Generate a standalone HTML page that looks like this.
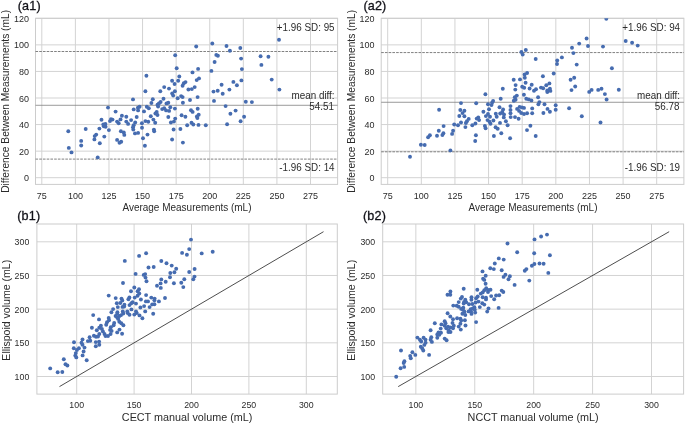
<!DOCTYPE html><html><head><meta charset="utf-8"><title>Bland-Altman and scatter plots</title>
<style>html,body{margin:0;padding:0;background:#fff}svg{display:block}text{font-family:"Liberation Sans", sans-serif}circle{fill:#466cb0}</style></head><body>
<svg width="685" height="424" viewBox="0 0 685 424">
<rect width="685" height="424" fill="#fff"/>
<g id="a1">
<rect x="35.5" y="18.3" width="302.1" height="166.1" fill="#fff"/>
<line x1="41.80" y1="18.3" x2="41.80" y2="184.4" stroke="#d3d3d3" stroke-width="1"/>
<text transform="translate(41.80,198.50) scale(0.955,1)" font-size="9.42" text-anchor="middle" fill="#2b2b2b">75</text>
<line x1="75.39" y1="18.3" x2="75.39" y2="184.4" stroke="#d3d3d3" stroke-width="1"/>
<text transform="translate(75.39,198.50) scale(0.955,1)" font-size="9.42" text-anchor="middle" fill="#2b2b2b">100</text>
<line x1="108.97" y1="18.3" x2="108.97" y2="184.4" stroke="#d3d3d3" stroke-width="1"/>
<text transform="translate(108.97,198.50) scale(0.955,1)" font-size="9.42" text-anchor="middle" fill="#2b2b2b">125</text>
<line x1="142.56" y1="18.3" x2="142.56" y2="184.4" stroke="#d3d3d3" stroke-width="1"/>
<text transform="translate(142.56,198.50) scale(0.955,1)" font-size="9.42" text-anchor="middle" fill="#2b2b2b">150</text>
<line x1="176.15" y1="18.3" x2="176.15" y2="184.4" stroke="#d3d3d3" stroke-width="1"/>
<text transform="translate(176.15,198.50) scale(0.955,1)" font-size="9.42" text-anchor="middle" fill="#2b2b2b">175</text>
<line x1="209.74" y1="18.3" x2="209.74" y2="184.4" stroke="#d3d3d3" stroke-width="1"/>
<text transform="translate(209.74,198.50) scale(0.955,1)" font-size="9.42" text-anchor="middle" fill="#2b2b2b">200</text>
<line x1="243.32" y1="18.3" x2="243.32" y2="184.4" stroke="#d3d3d3" stroke-width="1"/>
<text transform="translate(243.32,198.50) scale(0.955,1)" font-size="9.42" text-anchor="middle" fill="#2b2b2b">225</text>
<line x1="276.91" y1="18.3" x2="276.91" y2="184.4" stroke="#d3d3d3" stroke-width="1"/>
<text transform="translate(276.91,198.50) scale(0.955,1)" font-size="9.42" text-anchor="middle" fill="#2b2b2b">250</text>
<line x1="310.50" y1="18.3" x2="310.50" y2="184.4" stroke="#d3d3d3" stroke-width="1"/>
<text transform="translate(310.50,198.50) scale(0.955,1)" font-size="9.42" text-anchor="middle" fill="#2b2b2b">275</text>
<line x1="35.5" y1="177.70" x2="337.6" y2="177.70" stroke="#d3d3d3" stroke-width="1"/>
<text transform="translate(28.90,181.30) scale(0.955,1)" font-size="9.42" text-anchor="end" fill="#2b2b2b">0</text>
<line x1="35.5" y1="151.13" x2="337.6" y2="151.13" stroke="#d3d3d3" stroke-width="1"/>
<text transform="translate(28.90,154.73) scale(0.955,1)" font-size="9.42" text-anchor="end" fill="#2b2b2b">20</text>
<line x1="35.5" y1="124.57" x2="337.6" y2="124.57" stroke="#d3d3d3" stroke-width="1"/>
<text transform="translate(28.90,128.17) scale(0.955,1)" font-size="9.42" text-anchor="end" fill="#2b2b2b">40</text>
<line x1="35.5" y1="98.00" x2="337.6" y2="98.00" stroke="#d3d3d3" stroke-width="1"/>
<text transform="translate(28.90,101.60) scale(0.955,1)" font-size="9.42" text-anchor="end" fill="#2b2b2b">60</text>
<line x1="35.5" y1="71.43" x2="337.6" y2="71.43" stroke="#d3d3d3" stroke-width="1"/>
<text transform="translate(28.90,75.03) scale(0.955,1)" font-size="9.42" text-anchor="end" fill="#2b2b2b">80</text>
<line x1="35.5" y1="44.87" x2="337.6" y2="44.87" stroke="#d3d3d3" stroke-width="1"/>
<text transform="translate(28.90,48.47) scale(0.955,1)" font-size="9.42" text-anchor="end" fill="#2b2b2b">100</text>
<line x1="35.5" y1="18.30" x2="337.6" y2="18.30" stroke="#d3d3d3" stroke-width="1"/>
<text transform="translate(28.90,21.90) scale(0.955,1)" font-size="9.42" text-anchor="end" fill="#2b2b2b">120</text>
<rect x="35.5" y="18.3" width="302.1" height="166.1" fill="none" stroke="#cccccc" stroke-width="1"/>
<line x1="35.5" y1="51.51" x2="337.6" y2="51.51" stroke="#6a6a6a" stroke-width="0.85" stroke-dasharray="2.6 1.13"/>
<line x1="35.5" y1="159.10" x2="337.6" y2="159.10" stroke="#6a6a6a" stroke-width="0.85" stroke-dasharray="2.6 1.13"/>
<line x1="35.5" y1="105.29" x2="337.6" y2="105.29" stroke="#808080" stroke-width="0.8"/>
<clipPath id="clip-a1"><rect x="35.5" y="18.3" width="302.1" height="166.1"/></clipPath><g clip-path="url(#clip-a1)">
<circle cx="196.2" cy="46.5" r="1.95"/>
<circle cx="175.2" cy="55.3" r="1.95"/>
<circle cx="176.7" cy="68.3" r="1.95"/>
<circle cx="198.1" cy="68.9" r="1.95"/>
<circle cx="192.5" cy="72.4" r="1.95"/>
<circle cx="146.4" cy="75.8" r="1.95"/>
<circle cx="179.3" cy="76.5" r="1.95"/>
<circle cx="199.0" cy="78.4" r="1.95"/>
<circle cx="196.7" cy="80.1" r="1.95"/>
<circle cx="172.1" cy="80.8" r="1.95"/>
<circle cx="178.2" cy="80.8" r="1.95"/>
<circle cx="185.5" cy="82.1" r="1.95"/>
<circle cx="183.8" cy="83.2" r="1.95"/>
<circle cx="174.6" cy="84.0" r="1.95"/>
<circle cx="182.6" cy="85.7" r="1.95"/>
<circle cx="164.2" cy="87.1" r="1.95"/>
<circle cx="194.7" cy="87.1" r="1.95"/>
<circle cx="169.0" cy="88.6" r="1.95"/>
<circle cx="188.4" cy="89.5" r="1.95"/>
<circle cx="191.8" cy="89.1" r="1.95"/>
<circle cx="145.4" cy="91.2" r="1.95"/>
<circle cx="160.3" cy="91.3" r="1.95"/>
<circle cx="174.9" cy="91.3" r="1.95"/>
<circle cx="172.2" cy="93.5" r="1.95"/>
<circle cx="133.0" cy="99.4" r="1.95"/>
<circle cx="152.8" cy="99.2" r="1.95"/>
<circle cx="151.4" cy="103.0" r="1.95"/>
<circle cx="157.5" cy="104.8" r="1.95"/>
<circle cx="108.0" cy="107.6" r="1.95"/>
<circle cx="139.6" cy="106.8" r="1.95"/>
<circle cx="137.9" cy="107.8" r="1.95"/>
<circle cx="146.8" cy="106.8" r="1.95"/>
<circle cx="148.8" cy="108.3" r="1.95"/>
<circle cx="133.7" cy="109.4" r="1.95"/>
<circle cx="138.1" cy="110.4" r="1.95"/>
<circle cx="115.6" cy="111.6" r="1.95"/>
<circle cx="144.0" cy="111.4" r="1.95"/>
<circle cx="156.7" cy="111.9" r="1.95"/>
<circle cx="155.4" cy="113.5" r="1.95"/>
<circle cx="157.5" cy="115.0" r="1.95"/>
<circle cx="121.9" cy="115.7" r="1.95"/>
<circle cx="126.3" cy="116.7" r="1.95"/>
<circle cx="136.7" cy="117.0" r="1.95"/>
<circle cx="150.8" cy="116.3" r="1.95"/>
<circle cx="101.5" cy="119.8" r="1.95"/>
<circle cx="111.0" cy="119.1" r="1.95"/>
<circle cx="112.5" cy="119.6" r="1.95"/>
<circle cx="110.0" cy="121.1" r="1.95"/>
<circle cx="120.5" cy="119.4" r="1.95"/>
<circle cx="131.1" cy="120.1" r="1.95"/>
<circle cx="153.4" cy="119.6" r="1.95"/>
<circle cx="117.1" cy="121.6" r="1.95"/>
<circle cx="118.7" cy="123.2" r="1.95"/>
<circle cx="126.3" cy="121.6" r="1.95"/>
<circle cx="128.1" cy="123.9" r="1.95"/>
<circle cx="135.2" cy="122.5" r="1.95"/>
<circle cx="141.9" cy="123.2" r="1.95"/>
<circle cx="145.4" cy="121.1" r="1.95"/>
<circle cx="148.3" cy="121.8" r="1.95"/>
<circle cx="155.2" cy="122.7" r="1.95"/>
<circle cx="103.3" cy="124.5" r="1.95"/>
<circle cx="105.4" cy="123.9" r="1.95"/>
<circle cx="103.8" cy="126.2" r="1.95"/>
<circle cx="105.6" cy="126.7" r="1.95"/>
<circle cx="99.4" cy="128.6" r="1.95"/>
<circle cx="108.9" cy="130.1" r="1.95"/>
<circle cx="133.7" cy="125.2" r="1.95"/>
<circle cx="133.0" cy="127.3" r="1.95"/>
<circle cx="133.3" cy="129.6" r="1.95"/>
<circle cx="142.0" cy="127.8" r="1.95"/>
<circle cx="153.9" cy="129.6" r="1.95"/>
<circle cx="154.2" cy="131.3" r="1.95"/>
<circle cx="120.9" cy="131.3" r="1.95"/>
<circle cx="123.8" cy="132.4" r="1.95"/>
<circle cx="135.0" cy="133.4" r="1.95"/>
<circle cx="138.1" cy="132.9" r="1.95"/>
<circle cx="124.3" cy="134.9" r="1.95"/>
<circle cx="96.2" cy="134.6" r="1.95"/>
<circle cx="94.7" cy="136.1" r="1.95"/>
<circle cx="104.3" cy="136.6" r="1.95"/>
<circle cx="94.4" cy="139.4" r="1.95"/>
<circle cx="99.8" cy="143.3" r="1.95"/>
<circle cx="117.1" cy="139.9" r="1.95"/>
<circle cx="121.2" cy="141.8" r="1.95"/>
<circle cx="119.5" cy="142.8" r="1.95"/>
<circle cx="143.0" cy="138.2" r="1.95"/>
<circle cx="147.5" cy="134.6" r="1.95"/>
<circle cx="144.9" cy="145.8" r="1.95"/>
<circle cx="97.7" cy="157.4" r="1.95"/>
<circle cx="173.2" cy="95.6" r="1.95"/>
<circle cx="181.1" cy="96.1" r="1.95"/>
<circle cx="182.6" cy="97.1" r="1.95"/>
<circle cx="177.7" cy="98.3" r="1.95"/>
<circle cx="197.6" cy="97.1" r="1.95"/>
<circle cx="190.0" cy="100.0" r="1.95"/>
<circle cx="163.5" cy="98.8" r="1.95"/>
<circle cx="182.9" cy="102.7" r="1.95"/>
<circle cx="214.0" cy="100.9" r="1.95"/>
<circle cx="160.6" cy="102.0" r="1.95"/>
<circle cx="158.9" cy="103.4" r="1.95"/>
<circle cx="158.1" cy="106.5" r="1.95"/>
<circle cx="166.5" cy="103.4" r="1.95"/>
<circle cx="168.3" cy="102.7" r="1.95"/>
<circle cx="170.3" cy="107.3" r="1.95"/>
<circle cx="169.1" cy="110.9" r="1.95"/>
<circle cx="166.1" cy="110.4" r="1.95"/>
<circle cx="164.2" cy="108.3" r="1.95"/>
<circle cx="162.2" cy="109.1" r="1.95"/>
<circle cx="174.9" cy="108.6" r="1.95"/>
<circle cx="197.7" cy="108.7" r="1.95"/>
<circle cx="191.0" cy="110.2" r="1.95"/>
<circle cx="192.6" cy="111.9" r="1.95"/>
<circle cx="198.7" cy="114.7" r="1.95"/>
<circle cx="196.9" cy="116.5" r="1.95"/>
<circle cx="197.4" cy="118.1" r="1.95"/>
<circle cx="181.6" cy="115.3" r="1.95"/>
<circle cx="185.4" cy="116.7" r="1.95"/>
<circle cx="168.3" cy="117.0" r="1.95"/>
<circle cx="175.2" cy="118.6" r="1.95"/>
<circle cx="173.9" cy="121.6" r="1.95"/>
<circle cx="170.9" cy="122.5" r="1.95"/>
<circle cx="191.5" cy="122.7" r="1.95"/>
<circle cx="193.3" cy="124.5" r="1.95"/>
<circle cx="187.2" cy="125.2" r="1.95"/>
<circle cx="198.5" cy="124.9" r="1.95"/>
<circle cx="205.8" cy="125.2" r="1.95"/>
<circle cx="173.6" cy="129.5" r="1.95"/>
<circle cx="180.4" cy="129.0" r="1.95"/>
<circle cx="211.4" cy="70.9" r="1.95"/>
<circle cx="214.6" cy="62.0" r="1.95"/>
<circle cx="216.3" cy="54.9" r="1.95"/>
<circle cx="217.9" cy="55.8" r="1.95"/>
<circle cx="221.6" cy="84.7" r="1.95"/>
<circle cx="213.5" cy="91.6" r="1.95"/>
<circle cx="217.7" cy="90.8" r="1.95"/>
<circle cx="222.7" cy="93.7" r="1.95"/>
<circle cx="172.1" cy="139.5" r="1.95"/>
<circle cx="182.9" cy="142.6" r="1.95"/>
<circle cx="279.0" cy="39.8" r="1.95"/>
<circle cx="212.3" cy="43.5" r="1.95"/>
<circle cx="226.5" cy="46.0" r="1.95"/>
<circle cx="240.3" cy="48.0" r="1.95"/>
<circle cx="229.9" cy="50.8" r="1.95"/>
<circle cx="260.6" cy="56.3" r="1.95"/>
<circle cx="268.4" cy="56.8" r="1.95"/>
<circle cx="241.1" cy="58.6" r="1.95"/>
<circle cx="261.4" cy="64.9" r="1.95"/>
<circle cx="241.9" cy="69.1" r="1.95"/>
<circle cx="271.7" cy="79.6" r="1.95"/>
<circle cx="241.4" cy="80.4" r="1.95"/>
<circle cx="233.4" cy="81.9" r="1.95"/>
<circle cx="236.9" cy="85.2" r="1.95"/>
<circle cx="279.4" cy="89.6" r="1.95"/>
<circle cx="229.4" cy="89.6" r="1.95"/>
<circle cx="245.8" cy="101.8" r="1.95"/>
<circle cx="251.9" cy="102.1" r="1.95"/>
<circle cx="225.6" cy="106.1" r="1.95"/>
<circle cx="235.6" cy="110.6" r="1.95"/>
<circle cx="230.4" cy="113.8" r="1.95"/>
<circle cx="244.1" cy="116.8" r="1.95"/>
<circle cx="240.6" cy="121.3" r="1.95"/>
<circle cx="227.1" cy="124.3" r="1.95"/>
<circle cx="68.3" cy="131.2" r="1.95"/>
<circle cx="68.8" cy="147.9" r="1.95"/>
<circle cx="71.5" cy="152.4" r="1.95"/>
<circle cx="85.7" cy="129.0" r="1.95"/>
<circle cx="81.2" cy="140.9" r="1.95"/>
<circle cx="81.2" cy="145.5" r="1.95"/>
</g>
<text transform="translate(334.60,31.30) scale(0.955,1)" font-size="10.31" text-anchor="end" fill="#2b2b2b">+1.96 SD: 95</text>
<text transform="translate(334.60,98.70) scale(0.955,1)" font-size="10.31" text-anchor="end" fill="#2b2b2b">mean diff:</text>
<text transform="translate(333.90,109.70) scale(0.955,1)" font-size="10.31" text-anchor="end" fill="#2b2b2b">54.51</text>
<text transform="translate(334.60,170.90) scale(0.955,1)" font-size="10.31" text-anchor="end" fill="#2b2b2b">-1.96 SD: 14</text>
<text transform="translate(186.95,210.80) scale(0.955,1)" font-size="10.47" text-anchor="middle" fill="#2b2b2b">Average Measurements (mL)</text>
<text transform="translate(8.90,101.35) rotate(-90) scale(0.955,1)" font-size="10.68" text-anchor="middle" fill="#2b2b2b">Difference Between Measurements (mL)</text>
<text x="17.70" y="10.2" font-size="12.6" fill="#111118" stroke="#111118" stroke-width="0.3" textLength="22.9" lengthAdjust="spacing">(a1)</text>
</g>
<g id="a2">
<rect x="381.2" y="18.3" width="302.7" height="166.1" fill="#fff"/>
<line x1="387.70" y1="18.3" x2="387.70" y2="184.4" stroke="#d3d3d3" stroke-width="1"/>
<text transform="translate(387.70,198.50) scale(0.955,1)" font-size="9.42" text-anchor="middle" fill="#2b2b2b">75</text>
<line x1="421.32" y1="18.3" x2="421.32" y2="184.4" stroke="#d3d3d3" stroke-width="1"/>
<text transform="translate(421.32,198.50) scale(0.955,1)" font-size="9.42" text-anchor="middle" fill="#2b2b2b">100</text>
<line x1="454.95" y1="18.3" x2="454.95" y2="184.4" stroke="#d3d3d3" stroke-width="1"/>
<text transform="translate(454.95,198.50) scale(0.955,1)" font-size="9.42" text-anchor="middle" fill="#2b2b2b">125</text>
<line x1="488.57" y1="18.3" x2="488.57" y2="184.4" stroke="#d3d3d3" stroke-width="1"/>
<text transform="translate(488.57,198.50) scale(0.955,1)" font-size="9.42" text-anchor="middle" fill="#2b2b2b">150</text>
<line x1="522.20" y1="18.3" x2="522.20" y2="184.4" stroke="#d3d3d3" stroke-width="1"/>
<text transform="translate(522.20,198.50) scale(0.955,1)" font-size="9.42" text-anchor="middle" fill="#2b2b2b">175</text>
<line x1="555.83" y1="18.3" x2="555.83" y2="184.4" stroke="#d3d3d3" stroke-width="1"/>
<text transform="translate(555.83,198.50) scale(0.955,1)" font-size="9.42" text-anchor="middle" fill="#2b2b2b">200</text>
<line x1="589.45" y1="18.3" x2="589.45" y2="184.4" stroke="#d3d3d3" stroke-width="1"/>
<text transform="translate(589.45,198.50) scale(0.955,1)" font-size="9.42" text-anchor="middle" fill="#2b2b2b">225</text>
<line x1="623.08" y1="18.3" x2="623.08" y2="184.4" stroke="#d3d3d3" stroke-width="1"/>
<text transform="translate(623.08,198.50) scale(0.955,1)" font-size="9.42" text-anchor="middle" fill="#2b2b2b">250</text>
<line x1="656.70" y1="18.3" x2="656.70" y2="184.4" stroke="#d3d3d3" stroke-width="1"/>
<text transform="translate(656.70,198.50) scale(0.955,1)" font-size="9.42" text-anchor="middle" fill="#2b2b2b">275</text>
<line x1="381.2" y1="177.70" x2="683.9" y2="177.70" stroke="#d3d3d3" stroke-width="1"/>
<text transform="translate(374.60,181.30) scale(0.955,1)" font-size="9.42" text-anchor="end" fill="#2b2b2b">0</text>
<line x1="381.2" y1="151.13" x2="683.9" y2="151.13" stroke="#d3d3d3" stroke-width="1"/>
<text transform="translate(374.60,154.73) scale(0.955,1)" font-size="9.42" text-anchor="end" fill="#2b2b2b">20</text>
<line x1="381.2" y1="124.57" x2="683.9" y2="124.57" stroke="#d3d3d3" stroke-width="1"/>
<text transform="translate(374.60,128.17) scale(0.955,1)" font-size="9.42" text-anchor="end" fill="#2b2b2b">40</text>
<line x1="381.2" y1="98.00" x2="683.9" y2="98.00" stroke="#d3d3d3" stroke-width="1"/>
<text transform="translate(374.60,101.60) scale(0.955,1)" font-size="9.42" text-anchor="end" fill="#2b2b2b">60</text>
<line x1="381.2" y1="71.43" x2="683.9" y2="71.43" stroke="#d3d3d3" stroke-width="1"/>
<text transform="translate(374.60,75.03) scale(0.955,1)" font-size="9.42" text-anchor="end" fill="#2b2b2b">80</text>
<line x1="381.2" y1="44.87" x2="683.9" y2="44.87" stroke="#d3d3d3" stroke-width="1"/>
<text transform="translate(374.60,48.47) scale(0.955,1)" font-size="9.42" text-anchor="end" fill="#2b2b2b">100</text>
<line x1="381.2" y1="18.30" x2="683.9" y2="18.30" stroke="#d3d3d3" stroke-width="1"/>
<text transform="translate(374.60,21.90) scale(0.955,1)" font-size="9.42" text-anchor="end" fill="#2b2b2b">120</text>
<rect x="381.2" y="18.3" width="302.7" height="166.1" fill="none" stroke="#cccccc" stroke-width="1"/>
<line x1="381.2" y1="52.57" x2="683.9" y2="52.57" stroke="#6a6a6a" stroke-width="0.85" stroke-dasharray="2.6 1.13"/>
<line x1="381.2" y1="151.80" x2="683.9" y2="151.80" stroke="#6a6a6a" stroke-width="0.85" stroke-dasharray="2.6 1.13"/>
<line x1="381.2" y1="102.28" x2="683.9" y2="102.28" stroke="#808080" stroke-width="0.8"/>
<clipPath id="clip-a2"><rect x="381.2" y="18.3" width="302.7" height="166.1"/></clipPath><g clip-path="url(#clip-a2)">
<circle cx="461.0" cy="103.1" r="1.95"/>
<circle cx="439.1" cy="109.7" r="1.95"/>
<circle cx="460.3" cy="110.0" r="1.95"/>
<circle cx="464.4" cy="110.7" r="1.95"/>
<circle cx="462.5" cy="113.1" r="1.95"/>
<circle cx="459.3" cy="116.0" r="1.95"/>
<circle cx="464.4" cy="116.3" r="1.95"/>
<circle cx="468.7" cy="118.9" r="1.95"/>
<circle cx="466.9" cy="121.3" r="1.95"/>
<circle cx="465.9" cy="123.0" r="1.95"/>
<circle cx="461.0" cy="122.5" r="1.95"/>
<circle cx="458.0" cy="125.3" r="1.95"/>
<circle cx="454.2" cy="124.5" r="1.95"/>
<circle cx="465.4" cy="127.1" r="1.95"/>
<circle cx="443.6" cy="126.1" r="1.95"/>
<circle cx="438.8" cy="130.7" r="1.95"/>
<circle cx="453.1" cy="130.7" r="1.95"/>
<circle cx="452.1" cy="133.9" r="1.95"/>
<circle cx="443.4" cy="133.2" r="1.95"/>
<circle cx="442.4" cy="135.1" r="1.95"/>
<circle cx="437.0" cy="135.8" r="1.95"/>
<circle cx="429.9" cy="135.3" r="1.95"/>
<circle cx="428.1" cy="137.3" r="1.95"/>
<circle cx="420.9" cy="144.8" r="1.95"/>
<circle cx="424.7" cy="145.0" r="1.95"/>
<circle cx="410.0" cy="156.8" r="1.95"/>
<circle cx="450.4" cy="150.4" r="1.95"/>
<circle cx="485.4" cy="94.3" r="1.95"/>
<circle cx="500.7" cy="98.7" r="1.95"/>
<circle cx="516.8" cy="95.6" r="1.95"/>
<circle cx="514.8" cy="97.2" r="1.95"/>
<circle cx="515.6" cy="99.7" r="1.95"/>
<circle cx="513.8" cy="100.7" r="1.95"/>
<circle cx="523.9" cy="94.8" r="1.95"/>
<circle cx="526.3" cy="98.7" r="1.95"/>
<circle cx="528.8" cy="99.4" r="1.95"/>
<circle cx="531.4" cy="100.4" r="1.95"/>
<circle cx="476.2" cy="103.3" r="1.95"/>
<circle cx="493.1" cy="101.0" r="1.95"/>
<circle cx="492.1" cy="102.8" r="1.95"/>
<circle cx="491.5" cy="105.1" r="1.95"/>
<circle cx="488.0" cy="104.3" r="1.95"/>
<circle cx="489.0" cy="109.2" r="1.95"/>
<circle cx="483.4" cy="111.8" r="1.95"/>
<circle cx="499.5" cy="107.2" r="1.95"/>
<circle cx="503.1" cy="109.4" r="1.95"/>
<circle cx="510.5" cy="106.1" r="1.95"/>
<circle cx="510.5" cy="109.9" r="1.95"/>
<circle cx="510.5" cy="113.3" r="1.95"/>
<circle cx="510.7" cy="117.1" r="1.95"/>
<circle cx="517.1" cy="108.9" r="1.95"/>
<circle cx="519.6" cy="106.9" r="1.95"/>
<circle cx="522.0" cy="107.4" r="1.95"/>
<circle cx="524.0" cy="107.9" r="1.95"/>
<circle cx="519.1" cy="110.9" r="1.95"/>
<circle cx="521.2" cy="113.0" r="1.95"/>
<circle cx="524.0" cy="114.0" r="1.95"/>
<circle cx="527.1" cy="113.3" r="1.95"/>
<circle cx="532.2" cy="108.4" r="1.95"/>
<circle cx="532.2" cy="113.3" r="1.95"/>
<circle cx="515.0" cy="117.1" r="1.95"/>
<circle cx="518.6" cy="118.8" r="1.95"/>
<circle cx="488.0" cy="114.0" r="1.95"/>
<circle cx="485.9" cy="116.1" r="1.95"/>
<circle cx="490.0" cy="116.8" r="1.95"/>
<circle cx="495.8" cy="113.7" r="1.95"/>
<circle cx="496.7" cy="116.8" r="1.95"/>
<circle cx="500.2" cy="113.5" r="1.95"/>
<circle cx="502.3" cy="112.0" r="1.95"/>
<circle cx="504.0" cy="114.5" r="1.95"/>
<circle cx="503.8" cy="117.4" r="1.95"/>
<circle cx="478.3" cy="117.4" r="1.95"/>
<circle cx="476.7" cy="118.6" r="1.95"/>
<circle cx="479.1" cy="120.1" r="1.95"/>
<circle cx="487.5" cy="120.1" r="1.95"/>
<circle cx="489.5" cy="121.7" r="1.95"/>
<circle cx="490.5" cy="123.7" r="1.95"/>
<circle cx="493.4" cy="120.5" r="1.95"/>
<circle cx="505.9" cy="121.2" r="1.95"/>
<circle cx="500.0" cy="122.9" r="1.95"/>
<circle cx="475.4" cy="123.5" r="1.95"/>
<circle cx="472.3" cy="125.3" r="1.95"/>
<circle cx="484.9" cy="126.0" r="1.95"/>
<circle cx="485.6" cy="128.3" r="1.95"/>
<circle cx="495.6" cy="127.3" r="1.95"/>
<circle cx="497.7" cy="128.8" r="1.95"/>
<circle cx="507.6" cy="125.3" r="1.95"/>
<circle cx="530.4" cy="125.8" r="1.95"/>
<circle cx="527.0" cy="130.1" r="1.95"/>
<circle cx="475.9" cy="135.2" r="1.95"/>
<circle cx="475.2" cy="141.0" r="1.95"/>
<circle cx="493.9" cy="136.0" r="1.95"/>
<circle cx="501.3" cy="133.2" r="1.95"/>
<circle cx="510.1" cy="138.3" r="1.95"/>
<circle cx="535.7" cy="136.0" r="1.95"/>
<circle cx="521.4" cy="52.0" r="1.95"/>
<circle cx="522.7" cy="54.6" r="1.95"/>
<circle cx="525.8" cy="50.0" r="1.95"/>
<circle cx="535.7" cy="59.0" r="1.95"/>
<circle cx="527.1" cy="73.0" r="1.95"/>
<circle cx="524.6" cy="74.5" r="1.95"/>
<circle cx="524.8" cy="77.8" r="1.95"/>
<circle cx="513.7" cy="79.8" r="1.95"/>
<circle cx="520.0" cy="79.4" r="1.95"/>
<circle cx="525.6" cy="82.7" r="1.95"/>
<circle cx="515.6" cy="85.1" r="1.95"/>
<circle cx="522.2" cy="86.8" r="1.95"/>
<circle cx="524.2" cy="87.8" r="1.95"/>
<circle cx="531.7" cy="84.7" r="1.95"/>
<circle cx="529.6" cy="88.5" r="1.95"/>
<circle cx="502.8" cy="88.8" r="1.95"/>
<circle cx="515.3" cy="89.6" r="1.95"/>
<circle cx="534.0" cy="90.7" r="1.95"/>
<circle cx="536.0" cy="89.3" r="1.95"/>
<circle cx="573.4" cy="53.1" r="1.95"/>
<circle cx="561.9" cy="57.4" r="1.95"/>
<circle cx="557.2" cy="60.5" r="1.95"/>
<circle cx="557.0" cy="64.0" r="1.95"/>
<circle cx="576.7" cy="64.6" r="1.95"/>
<circle cx="553.7" cy="73.5" r="1.95"/>
<circle cx="542.9" cy="76.3" r="1.95"/>
<circle cx="574.2" cy="77.8" r="1.95"/>
<circle cx="570.6" cy="79.8" r="1.95"/>
<circle cx="549.4" cy="83.4" r="1.95"/>
<circle cx="546.3" cy="85.3" r="1.95"/>
<circle cx="541.0" cy="87.6" r="1.95"/>
<circle cx="543.2" cy="88.3" r="1.95"/>
<circle cx="549.9" cy="88.8" r="1.95"/>
<circle cx="547.3" cy="90.4" r="1.95"/>
<circle cx="550.4" cy="90.9" r="1.95"/>
<circle cx="547.3" cy="92.1" r="1.95"/>
<circle cx="575.2" cy="86.5" r="1.95"/>
<circle cx="571.5" cy="90.1" r="1.95"/>
<circle cx="591.6" cy="89.9" r="1.95"/>
<circle cx="589.2" cy="91.9" r="1.95"/>
<circle cx="598.2" cy="89.9" r="1.95"/>
<circle cx="601.5" cy="88.8" r="1.95"/>
<circle cx="538.1" cy="97.2" r="1.95"/>
<circle cx="539.4" cy="102.1" r="1.95"/>
<circle cx="538.4" cy="104.3" r="1.95"/>
<circle cx="544.5" cy="104.3" r="1.95"/>
<circle cx="555.7" cy="105.2" r="1.95"/>
<circle cx="555.7" cy="109.7" r="1.95"/>
<circle cx="547.5" cy="108.9" r="1.95"/>
<circle cx="549.9" cy="111.7" r="1.95"/>
<circle cx="543.4" cy="113.0" r="1.95"/>
<circle cx="569.1" cy="108.2" r="1.95"/>
<circle cx="581.8" cy="116.3" r="1.95"/>
<circle cx="600.5" cy="122.5" r="1.95"/>
<circle cx="606.3" cy="18.7" r="1.95"/>
<circle cx="586.6" cy="38.5" r="1.95"/>
<circle cx="579.2" cy="43.6" r="1.95"/>
<circle cx="588.0" cy="46.0" r="1.95"/>
<circle cx="603.0" cy="46.6" r="1.95"/>
<circle cx="572.0" cy="47.8" r="1.95"/>
<circle cx="625.7" cy="41.0" r="1.95"/>
<circle cx="632.1" cy="42.8" r="1.95"/>
<circle cx="637.7" cy="45.6" r="1.95"/>
<circle cx="611.9" cy="68.3" r="1.95"/>
<circle cx="604.9" cy="94.1" r="1.95"/>
<circle cx="618.8" cy="89.7" r="1.95"/>
<circle cx="606.6" cy="99.5" r="1.95"/>
</g>
<text transform="translate(680.10,31.30) scale(0.955,1)" font-size="10.31" text-anchor="end" fill="#2b2b2b">+1.96 SD: 94</text>
<text transform="translate(680.10,98.70) scale(0.955,1)" font-size="10.31" text-anchor="end" fill="#2b2b2b">mean diff:</text>
<text transform="translate(679.40,109.70) scale(0.955,1)" font-size="10.31" text-anchor="end" fill="#2b2b2b">56.78</text>
<text transform="translate(680.10,170.90) scale(0.955,1)" font-size="10.31" text-anchor="end" fill="#2b2b2b">-1.96 SD: 19</text>
<text transform="translate(532.95,210.80) scale(0.955,1)" font-size="10.47" text-anchor="middle" fill="#2b2b2b">Average Measurements (mL)</text>
<text transform="translate(354.60,101.35) rotate(-90) scale(0.955,1)" font-size="10.68" text-anchor="middle" fill="#2b2b2b">Difference Between Measurements (mL)</text>
<text x="363.40" y="10.2" font-size="12.6" fill="#111118" stroke="#111118" stroke-width="0.3" textLength="22.9" lengthAdjust="spacing">(a2)</text>
</g>
<g id="b1">
<rect x="36.9" y="224.0" width="300.40000000000003" height="170.10000000000002" fill="#fff"/>
<line x1="76.70" y1="224.0" x2="76.70" y2="394.1" stroke="#d3d3d3" stroke-width="1"/>
<text transform="translate(76.70,408.30) scale(0.955,1)" font-size="9.21" text-anchor="middle" fill="#2b2b2b">100</text>
<line x1="36.9" y1="376.50" x2="337.3" y2="376.50" stroke="#d3d3d3" stroke-width="1"/>
<text transform="translate(29.30,379.90) scale(0.955,1)" font-size="9.21" text-anchor="end" fill="#2b2b2b">100</text>
<line x1="134.10" y1="224.0" x2="134.10" y2="394.1" stroke="#d3d3d3" stroke-width="1"/>
<text transform="translate(134.10,408.30) scale(0.955,1)" font-size="9.21" text-anchor="middle" fill="#2b2b2b">150</text>
<line x1="36.9" y1="342.82" x2="337.3" y2="342.82" stroke="#d3d3d3" stroke-width="1"/>
<text transform="translate(29.30,346.22) scale(0.955,1)" font-size="9.21" text-anchor="end" fill="#2b2b2b">150</text>
<line x1="191.50" y1="224.0" x2="191.50" y2="394.1" stroke="#d3d3d3" stroke-width="1"/>
<text transform="translate(191.50,408.30) scale(0.955,1)" font-size="9.21" text-anchor="middle" fill="#2b2b2b">200</text>
<line x1="36.9" y1="309.15" x2="337.3" y2="309.15" stroke="#d3d3d3" stroke-width="1"/>
<text transform="translate(29.30,312.55) scale(0.955,1)" font-size="9.21" text-anchor="end" fill="#2b2b2b">200</text>
<line x1="248.90" y1="224.0" x2="248.90" y2="394.1" stroke="#d3d3d3" stroke-width="1"/>
<text transform="translate(248.90,408.30) scale(0.955,1)" font-size="9.21" text-anchor="middle" fill="#2b2b2b">250</text>
<line x1="36.9" y1="275.48" x2="337.3" y2="275.48" stroke="#d3d3d3" stroke-width="1"/>
<text transform="translate(29.30,278.88) scale(0.955,1)" font-size="9.21" text-anchor="end" fill="#2b2b2b">250</text>
<line x1="306.30" y1="224.0" x2="306.30" y2="394.1" stroke="#d3d3d3" stroke-width="1"/>
<text transform="translate(306.30,408.30) scale(0.955,1)" font-size="9.21" text-anchor="middle" fill="#2b2b2b">300</text>
<line x1="36.9" y1="241.80" x2="337.3" y2="241.80" stroke="#d3d3d3" stroke-width="1"/>
<text transform="translate(29.30,245.20) scale(0.955,1)" font-size="9.21" text-anchor="end" fill="#2b2b2b">300</text>
<rect x="36.9" y="224.0" width="300.40000000000003" height="170.10000000000002" fill="none" stroke="#cccccc" stroke-width="1"/>
<line x1="59.48" y1="386.60" x2="323.52" y2="231.70" stroke="#3a3a3a" stroke-width="0.9"/>
<circle cx="50.2" cy="368.4" r="1.95"/>
<circle cx="57.7" cy="372.3" r="1.95"/>
<circle cx="62.3" cy="372.0" r="1.95"/>
<circle cx="63.8" cy="359.2" r="1.95"/>
<circle cx="65.5" cy="364.3" r="1.95"/>
<circle cx="67.4" cy="365.5" r="1.95"/>
<circle cx="86.7" cy="360.2" r="1.95"/>
<circle cx="82.6" cy="355.4" r="1.95"/>
<circle cx="83.6" cy="351.5" r="1.95"/>
<circle cx="75.3" cy="355.6" r="1.95"/>
<circle cx="76.3" cy="357.4" r="1.95"/>
<circle cx="75.8" cy="353.1" r="1.95"/>
<circle cx="93.2" cy="315.1" r="1.95"/>
<circle cx="99.0" cy="319.4" r="1.95"/>
<circle cx="91.9" cy="327.8" r="1.95"/>
<circle cx="74.0" cy="342.3" r="1.95"/>
<circle cx="82.5" cy="339.4" r="1.95"/>
<circle cx="89.6" cy="337.3" r="1.95"/>
<circle cx="87.9" cy="341.1" r="1.95"/>
<circle cx="90.3" cy="340.8" r="1.95"/>
<circle cx="81.5" cy="342.7" r="1.95"/>
<circle cx="82.5" cy="344.7" r="1.95"/>
<circle cx="84.5" cy="347.6" r="1.95"/>
<circle cx="73.8" cy="348.3" r="1.95"/>
<circle cx="76.9" cy="350.0" r="1.95"/>
<circle cx="78.9" cy="348.3" r="1.95"/>
<circle cx="96.8" cy="330.2" r="1.95"/>
<circle cx="93.9" cy="335.7" r="1.95"/>
<circle cx="96.0" cy="336.7" r="1.95"/>
<circle cx="99.3" cy="334.0" r="1.95"/>
<circle cx="98.0" cy="336.5" r="1.95"/>
<circle cx="95.8" cy="342.1" r="1.95"/>
<circle cx="99.1" cy="341.6" r="1.95"/>
<circle cx="99.3" cy="344.7" r="1.95"/>
<circle cx="95.8" cy="346.2" r="1.95"/>
<circle cx="100.9" cy="325.8" r="1.95"/>
<circle cx="99.3" cy="327.8" r="1.95"/>
<circle cx="101.9" cy="328.9" r="1.95"/>
<circle cx="102.9" cy="331.4" r="1.95"/>
<circle cx="104.5" cy="334.0" r="1.95"/>
<circle cx="105.5" cy="336.0" r="1.95"/>
<circle cx="108.0" cy="336.0" r="1.95"/>
<circle cx="110.6" cy="334.0" r="1.95"/>
<circle cx="110.1" cy="329.9" r="1.95"/>
<circle cx="111.6" cy="330.9" r="1.95"/>
<circle cx="107.0" cy="322.2" r="1.95"/>
<circle cx="106.2" cy="324.8" r="1.95"/>
<circle cx="108.7" cy="317.9" r="1.95"/>
<circle cx="109.0" cy="320.2" r="1.95"/>
<circle cx="110.8" cy="327.3" r="1.95"/>
<circle cx="113.6" cy="325.3" r="1.95"/>
<circle cx="114.2" cy="323.0" r="1.95"/>
<circle cx="115.6" cy="316.0" r="1.95"/>
<circle cx="118.2" cy="318.9" r="1.95"/>
<circle cx="119.3" cy="321.7" r="1.95"/>
<circle cx="121.3" cy="323.2" r="1.95"/>
<circle cx="123.4" cy="325.3" r="1.95"/>
<circle cx="119.5" cy="329.6" r="1.95"/>
<circle cx="117.2" cy="332.4" r="1.95"/>
<circle cx="122.1" cy="333.7" r="1.95"/>
<circle cx="108.7" cy="295.6" r="1.95"/>
<circle cx="115.7" cy="298.1" r="1.95"/>
<circle cx="134.3" cy="287.5" r="1.95"/>
<circle cx="139.0" cy="289.3" r="1.95"/>
<circle cx="137.6" cy="291.2" r="1.95"/>
<circle cx="139.3" cy="293.5" r="1.95"/>
<circle cx="137.6" cy="295.7" r="1.95"/>
<circle cx="131.0" cy="291.2" r="1.95"/>
<circle cx="134.7" cy="297.6" r="1.95"/>
<circle cx="129.4" cy="297.4" r="1.95"/>
<circle cx="128.4" cy="299.2" r="1.95"/>
<circle cx="121.5" cy="298.6" r="1.95"/>
<circle cx="122.3" cy="300.5" r="1.95"/>
<circle cx="120.3" cy="303.0" r="1.95"/>
<circle cx="116.8" cy="303.3" r="1.95"/>
<circle cx="146.1" cy="295.1" r="1.95"/>
<circle cx="140.9" cy="299.5" r="1.95"/>
<circle cx="151.3" cy="297.6" r="1.95"/>
<circle cx="154.6" cy="298.6" r="1.95"/>
<circle cx="154.4" cy="300.3" r="1.95"/>
<circle cx="145.9" cy="301.4" r="1.95"/>
<circle cx="148.0" cy="301.4" r="1.95"/>
<circle cx="158.9" cy="301.4" r="1.95"/>
<circle cx="136.0" cy="303.6" r="1.95"/>
<circle cx="132.7" cy="302.3" r="1.95"/>
<circle cx="131.3" cy="303.2" r="1.95"/>
<circle cx="129.5" cy="305.1" r="1.95"/>
<circle cx="124.4" cy="304.8" r="1.95"/>
<circle cx="124.2" cy="306.5" r="1.95"/>
<circle cx="122.5" cy="306.9" r="1.95"/>
<circle cx="117.8" cy="307.1" r="1.95"/>
<circle cx="113.1" cy="309.1" r="1.95"/>
<circle cx="152.2" cy="304.4" r="1.95"/>
<circle cx="154.4" cy="304.2" r="1.95"/>
<circle cx="149.6" cy="307.1" r="1.95"/>
<circle cx="144.1" cy="306.1" r="1.95"/>
<circle cx="140.4" cy="307.5" r="1.95"/>
<circle cx="131.4" cy="309.4" r="1.95"/>
<circle cx="145.2" cy="311.4" r="1.95"/>
<circle cx="153.2" cy="313.7" r="1.95"/>
<circle cx="111.4" cy="312.3" r="1.95"/>
<circle cx="117.4" cy="312.3" r="1.95"/>
<circle cx="117.2" cy="313.9" r="1.95"/>
<circle cx="117.2" cy="317.6" r="1.95"/>
<circle cx="122.8" cy="311.4" r="1.95"/>
<circle cx="123.3" cy="313.5" r="1.95"/>
<circle cx="121.1" cy="315.1" r="1.95"/>
<circle cx="119.5" cy="316.0" r="1.95"/>
<circle cx="127.3" cy="311.4" r="1.95"/>
<circle cx="127.7" cy="313.1" r="1.95"/>
<circle cx="129.5" cy="314.7" r="1.95"/>
<circle cx="136.0" cy="311.4" r="1.95"/>
<circle cx="136.8" cy="313.1" r="1.95"/>
<circle cx="134.3" cy="314.6" r="1.95"/>
<circle cx="139.5" cy="315.4" r="1.95"/>
<circle cx="142.4" cy="318.3" r="1.95"/>
<circle cx="157.0" cy="285.8" r="1.95"/>
<circle cx="160.8" cy="287.9" r="1.95"/>
<circle cx="124.8" cy="260.9" r="1.95"/>
<circle cx="139.1" cy="255.9" r="1.95"/>
<circle cx="146.1" cy="253.2" r="1.95"/>
<circle cx="148.5" cy="267.5" r="1.95"/>
<circle cx="153.7" cy="267.0" r="1.95"/>
<circle cx="135.6" cy="273.9" r="1.95"/>
<circle cx="145.2" cy="274.1" r="1.95"/>
<circle cx="143.7" cy="274.9" r="1.95"/>
<circle cx="145.5" cy="277.6" r="1.95"/>
<circle cx="146.5" cy="281.3" r="1.95"/>
<circle cx="123.0" cy="283.0" r="1.95"/>
<circle cx="191.0" cy="239.6" r="1.95"/>
<circle cx="189.2" cy="249.1" r="1.95"/>
<circle cx="182.1" cy="252.9" r="1.95"/>
<circle cx="186.9" cy="254.7" r="1.95"/>
<circle cx="201.7" cy="253.4" r="1.95"/>
<circle cx="212.7" cy="251.8" r="1.95"/>
<circle cx="161.3" cy="261.0" r="1.95"/>
<circle cx="166.5" cy="263.3" r="1.95"/>
<circle cx="171.7" cy="265.6" r="1.95"/>
<circle cx="176.2" cy="268.7" r="1.95"/>
<circle cx="174.4" cy="272.3" r="1.95"/>
<circle cx="170.3" cy="273.0" r="1.95"/>
<circle cx="170.0" cy="277.2" r="1.95"/>
<circle cx="189.2" cy="272.0" r="1.95"/>
<circle cx="194.6" cy="269.0" r="1.95"/>
<circle cx="194.5" cy="276.6" r="1.95"/>
<circle cx="193.3" cy="279.3" r="1.95"/>
<circle cx="161.3" cy="279.4" r="1.95"/>
<circle cx="165.7" cy="281.7" r="1.95"/>
<circle cx="160.6" cy="283.4" r="1.95"/>
<circle cx="173.9" cy="283.2" r="1.95"/>
<circle cx="184.3" cy="279.3" r="1.95"/>
<circle cx="181.3" cy="282.7" r="1.95"/>
<circle cx="183.3" cy="287.1" r="1.95"/>
<circle cx="165.0" cy="298.0" r="1.95"/>
<text transform="translate(187.10,420.80) scale(0.955,1)" font-size="11.31" text-anchor="middle" fill="#2b2b2b">CECT manual volume (mL)</text>
<text transform="translate(9.50,310.25) rotate(-90) scale(0.955,1)" font-size="11.05" text-anchor="middle" fill="#2b2b2b">Ellispoid volume (mL)</text>
<text x="17.20" y="219.9" font-size="12.6" fill="#111118" stroke="#111118" stroke-width="0.3" textLength="22.9" lengthAdjust="spacing">(b1)</text>
</g>
<g id="b2">
<rect x="382.7" y="224.0" width="300.90000000000003" height="170.10000000000002" fill="#fff"/>
<line x1="415.85" y1="224.0" x2="415.85" y2="394.1" stroke="#d3d3d3" stroke-width="1"/>
<text transform="translate(415.85,408.30) scale(0.955,1)" font-size="9.21" text-anchor="middle" fill="#2b2b2b">100</text>
<line x1="382.7" y1="376.50" x2="683.6" y2="376.50" stroke="#d3d3d3" stroke-width="1"/>
<text transform="translate(375.10,379.90) scale(0.955,1)" font-size="9.21" text-anchor="end" fill="#2b2b2b">100</text>
<line x1="474.76" y1="224.0" x2="474.76" y2="394.1" stroke="#d3d3d3" stroke-width="1"/>
<text transform="translate(474.76,408.30) scale(0.955,1)" font-size="9.21" text-anchor="middle" fill="#2b2b2b">150</text>
<line x1="382.7" y1="342.82" x2="683.6" y2="342.82" stroke="#d3d3d3" stroke-width="1"/>
<text transform="translate(375.10,346.22) scale(0.955,1)" font-size="9.21" text-anchor="end" fill="#2b2b2b">150</text>
<line x1="533.67" y1="224.0" x2="533.67" y2="394.1" stroke="#d3d3d3" stroke-width="1"/>
<text transform="translate(533.67,408.30) scale(0.955,1)" font-size="9.21" text-anchor="middle" fill="#2b2b2b">200</text>
<line x1="382.7" y1="309.15" x2="683.6" y2="309.15" stroke="#d3d3d3" stroke-width="1"/>
<text transform="translate(375.10,312.55) scale(0.955,1)" font-size="9.21" text-anchor="end" fill="#2b2b2b">200</text>
<line x1="592.59" y1="224.0" x2="592.59" y2="394.1" stroke="#d3d3d3" stroke-width="1"/>
<text transform="translate(592.59,408.30) scale(0.955,1)" font-size="9.21" text-anchor="middle" fill="#2b2b2b">250</text>
<line x1="382.7" y1="275.48" x2="683.6" y2="275.48" stroke="#d3d3d3" stroke-width="1"/>
<text transform="translate(375.10,278.88) scale(0.955,1)" font-size="9.21" text-anchor="end" fill="#2b2b2b">250</text>
<line x1="651.50" y1="224.0" x2="651.50" y2="394.1" stroke="#d3d3d3" stroke-width="1"/>
<text transform="translate(651.50,408.30) scale(0.955,1)" font-size="9.21" text-anchor="middle" fill="#2b2b2b">300</text>
<line x1="382.7" y1="241.80" x2="683.6" y2="241.80" stroke="#d3d3d3" stroke-width="1"/>
<text transform="translate(375.10,245.20) scale(0.955,1)" font-size="9.21" text-anchor="end" fill="#2b2b2b">300</text>
<rect x="382.7" y="224.0" width="300.90000000000003" height="170.10000000000002" fill="none" stroke="#cccccc" stroke-width="1"/>
<line x1="398.18" y1="386.60" x2="669.17" y2="231.70" stroke="#3a3a3a" stroke-width="0.9"/>
<circle cx="396.2" cy="376.8" r="1.95"/>
<circle cx="400.6" cy="368.3" r="1.95"/>
<circle cx="404.2" cy="366.9" r="1.95"/>
<circle cx="404.4" cy="361.3" r="1.95"/>
<circle cx="403.7" cy="363.0" r="1.95"/>
<circle cx="410.2" cy="355.9" r="1.95"/>
<circle cx="410.8" cy="358.2" r="1.95"/>
<circle cx="401.0" cy="350.5" r="1.95"/>
<circle cx="412.4" cy="352.3" r="1.95"/>
<circle cx="415.3" cy="354.9" r="1.95"/>
<circle cx="429.1" cy="354.9" r="1.95"/>
<circle cx="420.8" cy="346.7" r="1.95"/>
<circle cx="422.3" cy="348.5" r="1.95"/>
<circle cx="423.3" cy="350.5" r="1.95"/>
<circle cx="425.6" cy="342.8" r="1.95"/>
<circle cx="424.3" cy="344.9" r="1.95"/>
<circle cx="431.9" cy="341.9" r="1.95"/>
<circle cx="446.6" cy="340.2" r="1.95"/>
<circle cx="447.6" cy="313.2" r="1.95"/>
<circle cx="450.3" cy="316.5" r="1.95"/>
<circle cx="434.8" cy="323.3" r="1.95"/>
<circle cx="430.6" cy="330.3" r="1.95"/>
<circle cx="444.7" cy="321.2" r="1.95"/>
<circle cx="445.5" cy="323.3" r="1.95"/>
<circle cx="441.4" cy="324.4" r="1.95"/>
<circle cx="440.7" cy="328.6" r="1.95"/>
<circle cx="444.7" cy="325.8" r="1.95"/>
<circle cx="446.3" cy="328.2" r="1.95"/>
<circle cx="448.0" cy="326.6" r="1.95"/>
<circle cx="450.5" cy="327.4" r="1.95"/>
<circle cx="448.8" cy="330.3" r="1.95"/>
<circle cx="450.5" cy="332.0" r="1.95"/>
<circle cx="448.4" cy="332.1" r="1.95"/>
<circle cx="453.0" cy="319.2" r="1.95"/>
<circle cx="452.5" cy="322.9" r="1.95"/>
<circle cx="453.8" cy="325.8" r="1.95"/>
<circle cx="453.0" cy="328.2" r="1.95"/>
<circle cx="457.1" cy="318.3" r="1.95"/>
<circle cx="460.4" cy="318.7" r="1.95"/>
<circle cx="461.2" cy="320.4" r="1.95"/>
<circle cx="460.4" cy="323.7" r="1.95"/>
<circle cx="458.7" cy="326.6" r="1.95"/>
<circle cx="460.8" cy="329.6" r="1.95"/>
<circle cx="464.9" cy="320.2" r="1.95"/>
<circle cx="465.5" cy="325.5" r="1.95"/>
<circle cx="438.5" cy="332.4" r="1.95"/>
<circle cx="441.0" cy="332.8" r="1.95"/>
<circle cx="437.3" cy="334.4" r="1.95"/>
<circle cx="439.3" cy="334.8" r="1.95"/>
<circle cx="437.3" cy="337.7" r="1.95"/>
<circle cx="444.7" cy="338.6" r="1.95"/>
<circle cx="417.4" cy="337.6" r="1.95"/>
<circle cx="419.9" cy="339.8" r="1.95"/>
<circle cx="421.2" cy="341.5" r="1.95"/>
<circle cx="423.6" cy="337.7" r="1.95"/>
<circle cx="425.5" cy="339.6" r="1.95"/>
<circle cx="431.3" cy="337.3" r="1.95"/>
<circle cx="430.6" cy="339.8" r="1.95"/>
<circle cx="462.9" cy="309.7" r="1.95"/>
<circle cx="464.5" cy="311.7" r="1.95"/>
<circle cx="462.4" cy="313.8" r="1.95"/>
<circle cx="465.3" cy="315.0" r="1.95"/>
<circle cx="485.6" cy="283.7" r="1.95"/>
<circle cx="463.7" cy="288.7" r="1.95"/>
<circle cx="477.3" cy="289.7" r="1.95"/>
<circle cx="486.2" cy="288.3" r="1.95"/>
<circle cx="484.3" cy="290.3" r="1.95"/>
<circle cx="488.0" cy="289.9" r="1.95"/>
<circle cx="490.5" cy="289.7" r="1.95"/>
<circle cx="488.0" cy="292.0" r="1.95"/>
<circle cx="482.7" cy="292.4" r="1.95"/>
<circle cx="480.8" cy="293.6" r="1.95"/>
<circle cx="501.7" cy="290.6" r="1.95"/>
<circle cx="503.3" cy="292.0" r="1.95"/>
<circle cx="477.7" cy="296.5" r="1.95"/>
<circle cx="476.1" cy="298.2" r="1.95"/>
<circle cx="471.5" cy="297.3" r="1.95"/>
<circle cx="471.4" cy="299.7" r="1.95"/>
<circle cx="482.7" cy="297.3" r="1.95"/>
<circle cx="486.0" cy="297.8" r="1.95"/>
<circle cx="486.0" cy="299.4" r="1.95"/>
<circle cx="491.2" cy="296.1" r="1.95"/>
<circle cx="496.1" cy="295.5" r="1.95"/>
<circle cx="499.2" cy="295.3" r="1.95"/>
<circle cx="494.2" cy="299.2" r="1.95"/>
<circle cx="462.0" cy="296.9" r="1.95"/>
<circle cx="460.8" cy="298.6" r="1.95"/>
<circle cx="465.3" cy="299.8" r="1.95"/>
<circle cx="464.1" cy="301.9" r="1.95"/>
<circle cx="466.2" cy="302.3" r="1.95"/>
<circle cx="463.7" cy="303.5" r="1.95"/>
<circle cx="458.7" cy="302.1" r="1.95"/>
<circle cx="478.5" cy="301.6" r="1.95"/>
<circle cx="475.6" cy="302.5" r="1.95"/>
<circle cx="472.3" cy="304.0" r="1.95"/>
<circle cx="469.0" cy="304.2" r="1.95"/>
<circle cx="482.3" cy="303.3" r="1.95"/>
<circle cx="484.3" cy="304.6" r="1.95"/>
<circle cx="456.7" cy="305.8" r="1.95"/>
<circle cx="458.7" cy="306.8" r="1.95"/>
<circle cx="463.3" cy="307.7" r="1.95"/>
<circle cx="461.2" cy="308.9" r="1.95"/>
<circle cx="479.8" cy="307.1" r="1.95"/>
<circle cx="474.4" cy="307.3" r="1.95"/>
<circle cx="472.8" cy="308.5" r="1.95"/>
<circle cx="470.7" cy="309.3" r="1.95"/>
<circle cx="474.8" cy="309.7" r="1.95"/>
<circle cx="468.6" cy="311.4" r="1.95"/>
<circle cx="471.1" cy="311.8" r="1.95"/>
<circle cx="488.5" cy="308.5" r="1.95"/>
<circle cx="487.2" cy="311.6" r="1.95"/>
<circle cx="498.6" cy="307.9" r="1.95"/>
<circle cx="475.2" cy="312.6" r="1.95"/>
<circle cx="471.5" cy="313.9" r="1.95"/>
<circle cx="498.8" cy="258.4" r="1.95"/>
<circle cx="503.7" cy="259.6" r="1.95"/>
<circle cx="494.8" cy="263.5" r="1.95"/>
<circle cx="490.3" cy="268.2" r="1.95"/>
<circle cx="493.8" cy="269.1" r="1.95"/>
<circle cx="501.7" cy="270.3" r="1.95"/>
<circle cx="482.5" cy="271.4" r="1.95"/>
<circle cx="485.7" cy="275.7" r="1.95"/>
<circle cx="483.1" cy="278.8" r="1.95"/>
<circle cx="484.3" cy="279.9" r="1.95"/>
<circle cx="505.4" cy="274.7" r="1.95"/>
<circle cx="503.6" cy="276.9" r="1.95"/>
<circle cx="509.9" cy="276.3" r="1.95"/>
<circle cx="508.5" cy="279.2" r="1.95"/>
<circle cx="547.0" cy="234.6" r="1.95"/>
<circle cx="541.1" cy="236.5" r="1.95"/>
<circle cx="534.5" cy="239.4" r="1.95"/>
<circle cx="507.5" cy="243.5" r="1.95"/>
<circle cx="517.2" cy="252.3" r="1.95"/>
<circle cx="534.2" cy="253.3" r="1.95"/>
<circle cx="549.9" cy="255.3" r="1.95"/>
<circle cx="534.4" cy="264.0" r="1.95"/>
<circle cx="531.9" cy="265.8" r="1.95"/>
<circle cx="539.5" cy="263.5" r="1.95"/>
<circle cx="543.6" cy="263.8" r="1.95"/>
<circle cx="526.4" cy="269.1" r="1.95"/>
<circle cx="524.8" cy="270.7" r="1.95"/>
<circle cx="548.3" cy="272.9" r="1.95"/>
<circle cx="529.3" cy="280.6" r="1.95"/>
<circle cx="514.6" cy="284.9" r="1.95"/>
<circle cx="450.4" cy="291.5" r="1.95"/>
<circle cx="447.5" cy="294.8" r="1.95"/>
<circle cx="450.3" cy="294.8" r="1.95"/>
<circle cx="453.3" cy="305.6" r="1.95"/>
<circle cx="476.1" cy="322.1" r="1.95"/>
<text transform="translate(533.15,420.80) scale(0.955,1)" font-size="11.31" text-anchor="middle" fill="#2b2b2b">NCCT manual volume (mL)</text>
<text transform="translate(355.30,310.25) rotate(-90) scale(0.955,1)" font-size="11.05" text-anchor="middle" fill="#2b2b2b">Ellispoid volume (mL)</text>
<text x="363.00" y="219.9" font-size="12.6" fill="#111118" stroke="#111118" stroke-width="0.3" textLength="22.9" lengthAdjust="spacing">(b2)</text>
</g>
</svg></body></html>
